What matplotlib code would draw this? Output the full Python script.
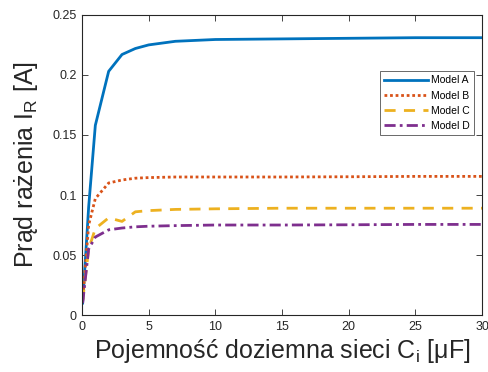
import matplotlib
matplotlib.use("Agg")
import matplotlib.pyplot as plt

plt.rcParams['font.family'] = ['Liberation Sans', 'DejaVu Sans']
plt.rcParams['mathtext.fontset'] = 'custom'
plt.rcParams['mathtext.rm'] = 'Liberation Sans'

x = [0.05, 0.5, 1, 2, 3, 4, 5, 7, 10, 15, 20, 25, 30]
model_a = [0.010, 0.090, 0.158, 0.203, 0.217, 0.222, 0.225, 0.228, 0.2295, 0.230, 0.2305, 0.231, 0.231]
model_b = [0.012, 0.075, 0.097, 0.110, 0.1125, 0.114, 0.1145, 0.115, 0.115, 0.115, 0.1152, 0.1155, 0.1155]
model_c = [0.012, 0.055, 0.072, 0.081, 0.078, 0.086, 0.087, 0.088, 0.0885, 0.089, 0.089, 0.089, 0.089]
model_d = [0.010, 0.055, 0.065, 0.071, 0.0725, 0.0735, 0.074, 0.0745, 0.075, 0.075, 0.0752, 0.0755, 0.0755]
labels = ['Model A', 'Model B', 'Model C', 'Model D']

fig = plt.figure(figsize=(4.88, 3.72), dpi=100)
ax = fig.add_axes([0.168, 0.153, 0.820, 0.807])

ax.plot(x, model_a, color='#0072BD', lw=2, ls='-', label=labels[0])
ax.plot(x, model_b, color='#D95319', lw=2, ls=(0, (1, 1)), label=labels[1])
ax.plot(x, model_c, color='#EDB120', lw=2, ls=(0, (4, 3)), label=labels[2])
ax.plot(x, model_d, color='#7E2F8E', lw=2, ls=(0, (4, 1.5, 1, 1.5)), label=labels[3])

ax.set_xlim(0, 30)
ax.set_ylim(0, 0.25)
ax.set_xticks([0, 5, 10, 15, 20, 25, 30])
ax.set_yticks([0, 0.05, 0.1, 0.15, 0.2, 0.25])
ax.set_yticklabels(['0', '0.05', '0.1', '0.15', '0.2', '0.25'])
ax.tick_params(direction='in', top=True, right=True, labelsize=9, length=4, width=0.6,
               colors='#262626', pad=4)
for s in ax.spines.values():
    s.set_linewidth(0.8)
    s.set_color('#262626')

ax.set_xlabel('Pojemność doziemna sieci C$_\\mathregular{i}$ [μF]', fontsize=18, color='#262626', labelpad=3)
ax.set_ylabel('Prąd rażenia I$_\\mathregular{R}$ [A]', fontsize=18, color='#262626', labelpad=9)

leg = ax.legend(loc='upper left', bbox_to_anchor=(0.745, 0.812), fontsize=7.5, frameon=True,
                fancybox=False, edgecolor='#262626', handlelength=4.2, handletextpad=0.3,
                borderpad=0.4, labelspacing=0.5, borderaxespad=0)
leg.get_frame().set_linewidth(0.6)

fig.savefig('out.png', dpi=100)
